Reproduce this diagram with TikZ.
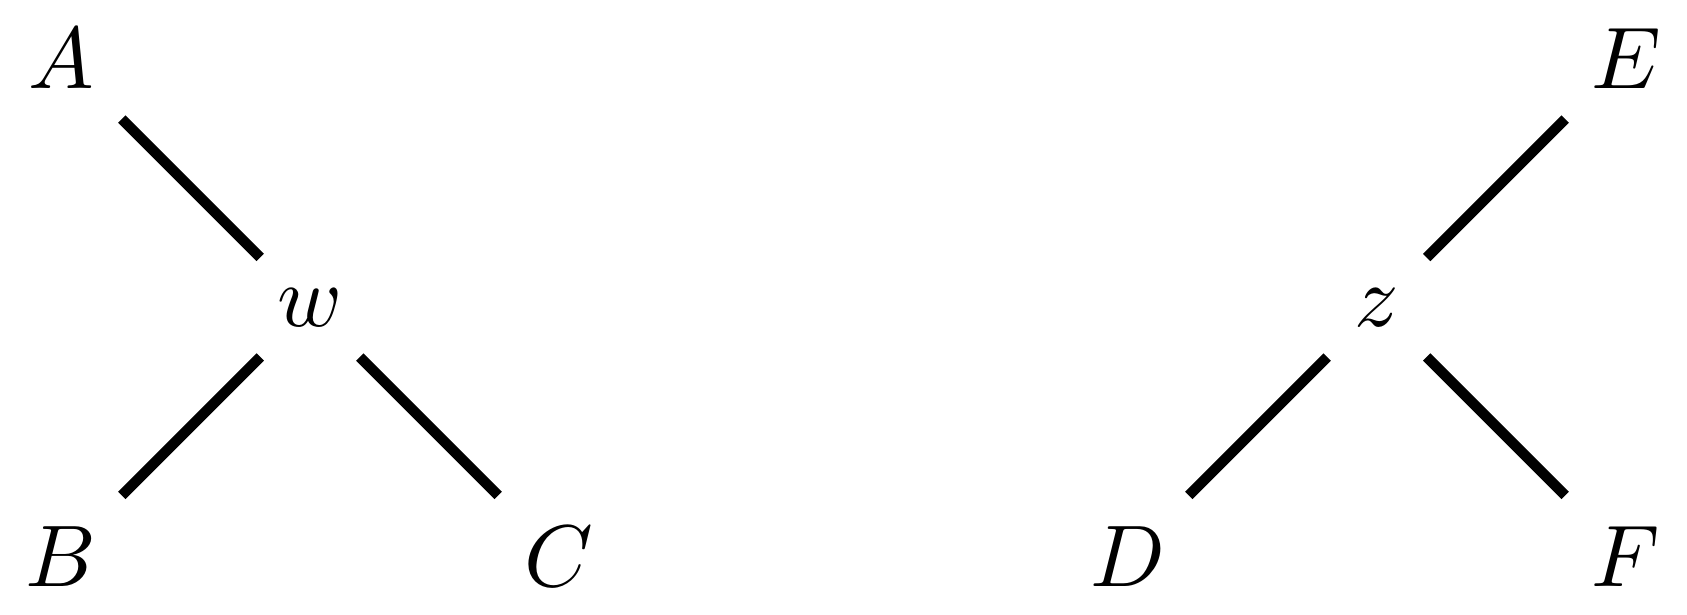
\documentclass[tikz,border=0pt]{standalone}

\begin{document}
\begin{tikzpicture}[scale = 1, branch/.style = {line width=1.2pt}]
    \useasboundingbox (-1.245,-1.232) rectangle (5.530,1.234);
    % Left tree
    \node (w) at (0,0) {$w$};
    \node (A) at (-1,1) {$A$};
    \node (B) at (-1,-1) {$B$};
    \node (C) at (1,-1) {$C$};
    % Right tree
    \node (z) at (4.285,0) {$z$};
    \node (D) at (3.285,-1) {$D$};
    \node (E) at (5.285,1) {$E$};
    \node (F) at (5.285,-1) {$F$};
    % Branches
    \draw[branch] (A) -- (w);
    \draw[branch] (w) -- (B);
    \draw[branch] (w) -- (C);
    \draw[branch] (z) -- (D);
    \draw[branch] (z) -- (E);
    \draw[branch] (z) -- (F);
  \end{tikzpicture}
\end{document}
